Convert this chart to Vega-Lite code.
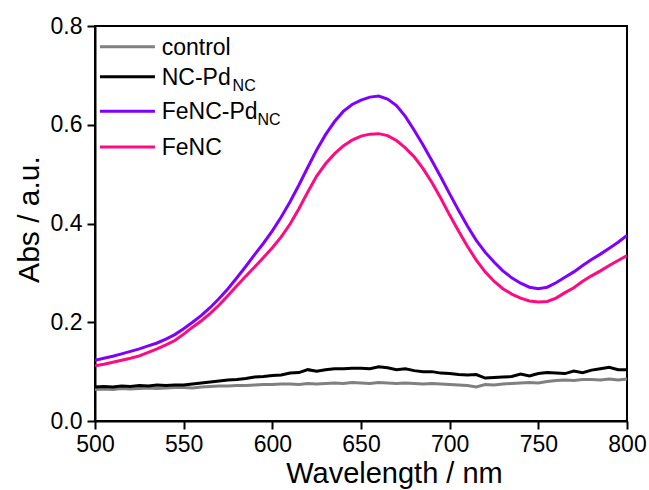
{
  "$schema": "https://vega.github.io/schema/vega-lite/v6.json",
  "width": 532,
  "height": 395,
  "autosize": "none",
  "padding": {"left": 95, "top": 26, "right": 22, "bottom": 69},
  "config": {
    "font": "Liberation Sans",
    "view": {"stroke": "black", "strokeWidth": 2},
    "axis": {
      "grid": false,
      "ticks": true,
      "labelFlush": false,
      "domainColor": "black",
      "domainWidth": 2,
      "tickColor": "black",
      "tickWidth": 2,
      "tickSize": 8,
      "labelColor": "black",
      "labelFontSize": 23,
      "labelFont": "Liberation Sans",
      "titleFont": "Liberation Sans",
      "titleFontSize": 30,
      "titleFontWeight": "normal",
      "titleColor": "black"
    }
  },
  "datasets": {
    "spec": [
      {"w":500,"C":0.064,"N":0.069,"P":0.123,"F":0.112},
      {"w":505,"C":0.065,"N":0.070,"P":0.127,"F":0.115},
      {"w":510,"C":0.064,"N":0.069,"P":0.131,"F":0.119},
      {"w":515,"C":0.066,"N":0.071,"P":0.136,"F":0.123},
      {"w":520,"C":0.065,"N":0.070,"P":0.141,"F":0.127},
      {"w":525,"C":0.066,"N":0.072,"P":0.146,"F":0.132},
      {"w":530,"C":0.067,"N":0.071,"P":0.152,"F":0.139},
      {"w":535,"C":0.066,"N":0.073,"P":0.158,"F":0.146},
      {"w":540,"C":0.067,"N":0.072,"P":0.166,"F":0.154},
      {"w":545,"C":0.068,"N":0.073,"P":0.175,"F":0.163},
      {"w":550,"C":0.068,"N":0.073,"P":0.187,"F":0.176},
      {"w":555,"C":0.067,"N":0.075,"P":0.200,"F":0.190},
      {"w":560,"C":0.069,"N":0.077,"P":0.214,"F":0.203},
      {"w":565,"C":0.070,"N":0.079,"P":0.230,"F":0.218},
      {"w":570,"C":0.071,"N":0.081,"P":0.248,"F":0.235},
      {"w":575,"C":0.071,"N":0.083,"P":0.268,"F":0.254},
      {"w":580,"C":0.072,"N":0.084,"P":0.290,"F":0.274},
      {"w":585,"C":0.072,"N":0.086,"P":0.313,"F":0.293},
      {"w":590,"C":0.073,"N":0.089,"P":0.337,"F":0.312},
      {"w":595,"C":0.074,"N":0.090,"P":0.360,"F":0.331},
      {"w":600,"C":0.074,"N":0.092,"P":0.385,"F":0.351},
      {"w":605,"C":0.075,"N":0.093,"P":0.413,"F":0.373},
      {"w":610,"C":0.075,"N":0.097,"P":0.444,"F":0.399},
      {"w":615,"C":0.074,"N":0.098,"P":0.478,"F":0.430},
      {"w":620,"C":0.076,"N":0.104,"P":0.514,"F":0.464},
      {"w":625,"C":0.075,"N":0.101,"P":0.549,"F":0.496},
      {"w":630,"C":0.076,"N":0.104,"P":0.580,"F":0.521},
      {"w":635,"C":0.077,"N":0.106,"P":0.606,"F":0.541},
      {"w":640,"C":0.076,"N":0.106,"P":0.627,"F":0.557},
      {"w":645,"C":0.078,"N":0.107,"P":0.641,"F":0.569},
      {"w":650,"C":0.077,"N":0.107,"P":0.650,"F":0.577},
      {"w":655,"C":0.076,"N":0.106,"P":0.656,"F":0.581},
      {"w":660,"C":0.078,"N":0.110,"P":0.658,"F":0.582},
      {"w":665,"C":0.077,"N":0.108,"P":0.652,"F":0.578},
      {"w":670,"C":0.076,"N":0.104,"P":0.639,"F":0.568},
      {"w":675,"C":0.077,"N":0.106,"P":0.617,"F":0.553},
      {"w":680,"C":0.076,"N":0.102,"P":0.589,"F":0.535},
      {"w":685,"C":0.075,"N":0.100,"P":0.559,"F":0.511},
      {"w":690,"C":0.076,"N":0.100,"P":0.527,"F":0.483},
      {"w":695,"C":0.075,"N":0.097,"P":0.494,"F":0.451},
      {"w":700,"C":0.074,"N":0.096,"P":0.460,"F":0.417},
      {"w":705,"C":0.073,"N":0.094,"P":0.427,"F":0.385},
      {"w":710,"C":0.072,"N":0.093,"P":0.395,"F":0.354},
      {"w":715,"C":0.069,"N":0.094,"P":0.366,"F":0.326},
      {"w":720,"C":0.074,"N":0.087,"P":0.342,"F":0.302},
      {"w":725,"C":0.073,"N":0.088,"P":0.322,"F":0.283},
      {"w":730,"C":0.075,"N":0.089,"P":0.304,"F":0.268},
      {"w":735,"C":0.076,"N":0.090,"P":0.290,"F":0.257},
      {"w":740,"C":0.077,"N":0.095,"P":0.279,"F":0.249},
      {"w":745,"C":0.078,"N":0.091,"P":0.271,"F":0.243},
      {"w":750,"C":0.077,"N":0.096,"P":0.268,"F":0.241},
      {"w":755,"C":0.080,"N":0.098,"P":0.271,"F":0.242},
      {"w":760,"C":0.082,"N":0.097,"P":0.280,"F":0.249},
      {"w":765,"C":0.083,"N":0.096,"P":0.291,"F":0.260},
      {"w":770,"C":0.082,"N":0.101,"P":0.302,"F":0.270},
      {"w":775,"C":0.084,"N":0.098,"P":0.315,"F":0.283},
      {"w":780,"C":0.084,"N":0.103,"P":0.327,"F":0.294},
      {"w":785,"C":0.083,"N":0.106,"P":0.338,"F":0.304},
      {"w":790,"C":0.085,"N":0.109,"P":0.350,"F":0.315},
      {"w":795,"C":0.083,"N":0.104,"P":0.362,"F":0.325},
      {"w":800,"C":0.085,"N":0.104,"P":0.376,"F":0.335}
    ],
    "leg": [
      {"s":"C","t":"control","a":502.8,"b":533.8,"y":0.758,"tx":537.6},
      {"s":"N","t":"NC-Pd","a":502.8,"b":533.8,"y":0.697,"tx":537.6},
      {"s":"P","t":"FeNC-Pd","a":502.8,"b":533.8,"y":0.6275,"tx":537.6},
      {"s":"F","t":"FeNC","a":502.8,"b":533.8,"y":0.555,"tx":537.6}
    ],
    "sub": [
      {"t":"NC","x":577.6,"y":0.697},
      {"t":"NC","x":591.6,"y":0.6275}
    ]
  },
  "layer": [
    {
      "data": {"name": "spec"},
      "transform": [{"fold": ["C", "N", "P", "F"], "as": ["s", "v"]}],
      "mark": {"type": "line", "strokeWidth": 3, "clip": true},
      "encoding": {
        "x": {
          "field": "w", "type": "quantitative",
          "scale": {"domain": [500, 800], "nice": false, "zero": false},
          "axis": {
            "values": [500, 550, 600, 650, 700, 750, 800],
            "title": "Wavelength / nm",
            "labelPadding": 4,
            "titleX": 299,
            "titleY": 61,
            "titleFontSize": 29,
            "titleAlign": "center",
            "titleBaseline": "alphabetic"
          }
        },
        "y": {
          "field": "v", "type": "quantitative",
          "scale": {"domain": [0, 0.8], "nice": false},
          "axis": {
            "values": [0, 0.2, 0.4, 0.6, 0.8],
            "format": ".1f",
            "title": "Abs / a.u.",
            "labelPadding": 5,
            "titleX": -57,
            "titleY": 193,
            "titleAlign": "center",
            "titleBaseline": "alphabetic",
            "titleAngle": -90
          }
        },
        "color": {
          "field": "s", "type": "nominal",
          "scale": {"domain": ["C", "N", "P", "F"], "range": ["#808080", "#000000", "#8000ff", "#ff0a80"]},
          "legend": null
        }
      }
    },
    {
      "data": {"name": "leg"},
      "mark": {"type": "rule", "strokeWidth": 3},
      "encoding": {
        "x": {"field": "a", "type": "quantitative"},
        "x2": {"field": "b"},
        "y": {"field": "y", "type": "quantitative"},
        "color": {"field": "s", "type": "nominal", "legend": null}
      }
    },
    {
      "data": {"name": "leg"},
      "mark": {"type": "text", "align": "left", "baseline": "alphabetic", "dy": 8, "fontSize": 23, "color": "black"},
      "encoding": {
        "x": {"field": "tx", "type": "quantitative"},
        "y": {"field": "y", "type": "quantitative"},
        "text": {"field": "t"}
      }
    },
    {
      "data": {"name": "sub"},
      "mark": {"type": "text", "align": "left", "baseline": "alphabetic", "dy": 14, "fontSize": 16, "color": "black"},
      "encoding": {
        "x": {"field": "x", "type": "quantitative"},
        "y": {"field": "y", "type": "quantitative"},
        "text": {"field": "t"}
      }
    }
  ]
}
